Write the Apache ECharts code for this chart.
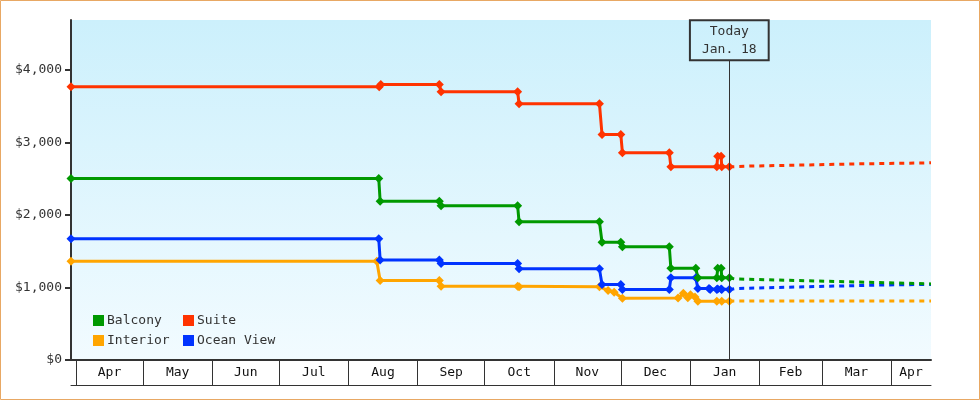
<!DOCTYPE html>
<html>
<head>
<meta charset="utf-8">
<script src="https://cdn.jsdelivr.net/npm/echarts@6/dist/echarts.min.js"></script>
<style>
html,body{margin:0;padding:0;background:#fff;}
#chart{width:980px;height:400px;}
</style>
</head>
<body>
<div id="chart"></div>
<script>
// ---------- DATA ----------
const seriesNames = ['Balcony', 'Suite', 'Interior', 'Ocean View'];
const monthLabels = ['Apr','May','Jun','Jul','Aug','Sep','Oct','Nov','Dec','Jan','Feb','Mar','Apr'];
const monthStarts = ['2022-04-01','2022-05-01','2022-06-01','2022-07-01','2022-08-01','2022-09-01','2022-10-01','2022-11-01','2022-12-01','2023-01-01','2023-02-01','2023-03-01','2023-04-01'];
const axisStart = '2022-03-29 18:00';
const axisEnd = '2023-04-18 22:00';
const yTickValues = [0, 1000, 2000, 3000, 4000];
const todayDate = '2023-01-18 14:00';
const todayText = 'Today\nJan. 18';

const suiteHistory = [
  ['2022-03-29 18:00', 3770], ['2022-08-14 19:00', 3770], ['2022-08-15 12:00', 3800],
  ['2022-09-10 17:00', 3800], ['2022-09-11 12:00', 3700], ['2022-10-15 19:00', 3700],
  ['2022-10-16 10:00', 3535], ['2022-11-21 10:00', 3535], ['2022-11-22 14:00', 3110],
  ['2022-12-01 00:00', 3110], ['2022-12-01 17:00', 2860], ['2022-12-22 17:00', 2860],
  ['2022-12-23 10:00', 2665], ['2023-01-13 00:00', 2665], ['2023-01-13 09:00', 2810],
  ['2023-01-14 22:00', 2810], ['2023-01-15 05:00', 2665], ['2023-01-18 14:00', 2665]
];
const suiteForecast = [
  ['2023-01-18 14:00', 2665], ['2023-01-28 00:00', 2675], ['2023-02-22 00:00', 2690],
  ['2023-03-16 00:00', 2705], ['2023-04-08 00:00', 2715], ['2023-04-18 22:00', 2720]
];
const balconyHistory = [
  ['2022-03-29 18:00', 2505], ['2022-08-14 14:00', 2505], ['2022-08-15 05:00', 2190],
  ['2022-09-10 17:00', 2190], ['2022-09-11 12:00', 2127], ['2022-10-15 19:00', 2127],
  ['2022-10-16 10:00', 1906], ['2022-11-21 10:00', 1906], ['2022-11-22 14:00', 1625],
  ['2022-12-01 00:00', 1625], ['2022-12-01 17:00', 1562], ['2022-12-22 17:00', 1562],
  ['2022-12-23 10:00', 1265], ['2023-01-03 14:00', 1265], ['2023-01-04 12:00', 1133],
  ['2023-01-13 00:00', 1133], ['2023-01-13 09:00', 1265], ['2023-01-14 22:00', 1265],
  ['2023-01-15 05:00', 1133], ['2023-01-18 14:00', 1133]
];
const balconyForecast = [
  ['2023-01-18 14:00', 1133], ['2023-01-21 00:00', 1118], ['2023-02-08 00:00', 1104],
  ['2023-02-26 00:00', 1090], ['2023-03-16 00:00', 1076], ['2023-04-03 00:00', 1062],
  ['2023-04-18 22:00', 1050]
];
const oceanHistory = [
  ['2022-03-29 18:00', 1671], ['2022-08-14 14:00', 1671], ['2022-08-15 05:00', 1381],
  ['2022-09-10 17:00', 1381], ['2022-09-11 12:00', 1330], ['2022-10-15 19:00', 1330],
  ['2022-10-16 10:00', 1257], ['2022-11-21 10:00', 1257], ['2022-11-22 14:00', 1040],
  ['2022-12-01 00:00', 1040], ['2022-12-01 17:00', 971], ['2022-12-22 17:00', 971],
  ['2022-12-23 10:00', 1133], ['2023-01-03 14:00', 1133], ['2023-01-04 12:00', 985],
  ['2023-01-09 12:00', 985], ['2023-01-10 00:00', 971], ['2023-01-13 00:00', 971],
  ['2023-01-13 09:00', 980], ['2023-01-14 22:00', 980], ['2023-01-15 05:00', 971],
  ['2023-01-18 14:00', 971]
];
const oceanForecast = [
  ['2023-01-18 14:00', 971], ['2023-01-21 00:00', 985], ['2023-02-08 00:00', 999],
  ['2023-02-26 00:00', 1013], ['2023-03-16 00:00', 1026], ['2023-04-03 00:00', 1038],
  ['2023-04-18 22:00', 1042]
];
const interiorHistory = [
  ['2022-03-29 18:00', 1362], ['2022-08-13 17:00', 1362], ['2022-08-15 05:00', 1095],
  ['2022-09-10 17:00', 1095], ['2022-09-11 12:00', 1017], ['2022-10-15 19:00', 1017],
  ['2022-10-16 10:00', 1010], ['2022-11-21 10:00', 1010], ['2022-11-25 07:00', 960],
  ['2022-11-28 00:00', 935], ['2022-12-01 17:00', 852], ['2022-12-26 15:00', 855],
  ['2022-12-29 00:00', 920], ['2022-12-31 00:00', 858], ['2023-01-01 05:00', 900],
  ['2023-01-03 05:00', 870], ['2023-01-04 12:00', 809], ['2023-01-13 00:00', 809],
  ['2023-01-15 05:00', 809], ['2023-01-18 14:00', 812]
];
const interiorForecast = [
  ['2023-01-18 14:00', 812], ['2023-02-15 00:00', 815], ['2023-04-18 22:00', 815]
];

// ---------- BUILD ----------
const FONT = 'DejaVu Sans Mono';
const colors = { 'Balcony': '#009900', 'Suite': '#ff3300', 'Interior': '#ffa500', 'Ocean View': '#0033ff' };

function t(s) {
  const parts = s.split(' ');
  const d = parts[0].split('-').map(Number);
  let hh = 0, mm = 0;
  if (parts[1]) { const h = parts[1].split(':').map(Number); hh = h[0]; mm = h[1]; }
  return Date.UTC(d[0], d[1] - 1, d[2], hh, mm);
}
const conv = arr => arr.map(p => [t(p[0]), p[1]]);

const xMin = t(axisStart), xMax = t(axisEnd);
const tickVals = monthStarts.map(t);
const labelVals = tickVals.map((v, i) => (v + (i + 1 < tickVals.length ? tickVals[i + 1] : xMax)) / 2);
const labelMap = {};
labelVals.forEach((v, i) => { labelMap[v] = monthLabels[i]; });

function fmtMoney(v) {
  return '$' + String(v).replace(/\B(?=(\d{3})+(?!\d))/g, ',');
}

function hist(name, data) {
  return {
    name: name, type: 'line', data: conv(data), color: colors[name],
    symbol: 'diamond', symbolSize: 9, showAllSymbol: true,
    lineStyle: { width: 3, color: colors[name] },
    itemStyle: { color: colors[name] },
    emphasis: { disabled: true }, z: 3
  };
}
function fore(name, data) {
  return {
    name: name, type: 'line', data: conv(data), color: colors[name],
    symbol: 'none', showSymbol: false,
    lineStyle: { width: 3, color: colors[name], type: [5, 5] },
    itemStyle: { color: colors[name] },
    emphasis: { disabled: true }, z: 2
  };
}

const series = [
  hist('Interior', interiorHistory), fore('Interior', interiorForecast),
  hist('Ocean View', oceanHistory), fore('Ocean View', oceanForecast),
  hist('Balcony', balconyHistory), fore('Balcony', balconyForecast),
  hist('Suite', suiteHistory), fore('Suite', suiteForecast)
];
series[series.length - 1].markLine = {
  silent: true, symbol: 'none', animation: false,
  lineStyle: { color: '#333', width: 1, type: 'solid' },
  label: {
    show: true, position: 'end', distance: 0, formatter: todayText,
    fontFamily: FONT, fontSize: 13, color: '#333', lineHeight: 18,
    borderColor: '#333', borderWidth: 1, backgroundColor: 'transparent',
    padding: [2, 12, 2, 12], align: 'center'
  },
  data: [[{ coord: [t(todayDate), 0] }, { coord: [t(todayDate), 4134] }]]
};

const legendCommon = {
  orient: 'vertical', itemWidth: 11, itemHeight: 11, itemGap: 7, icon: 'rect',
  padding: 0, selectedMode: false,
  textStyle: { fontFamily: FONT, fontSize: 13, color: '#333', padding: [0, 0, 0, -2] }
};

const option = {
  animation: false,
  backgroundColor: '#ffffff',
  textStyle: { fontFamily: FONT },
  graphic: [{
    type: 'rect', shape: { x: 0.5, y: 0.5, width: 979, height: 399 },
    style: { fill: 'none', stroke: '#e8a864', lineWidth: 1 }, silent: true, z: 100
  }],
  grid: {
    left: 71, right: 49, top: 20, bottom: 40, show: true, borderWidth: 0,
    backgroundColor: {
      type: 'linear', x: 0, y: 0, x2: 0, y2: 1,
      colorStops: [{ offset: 0, color: '#ccf0fc' }, { offset: 1, color: '#f2fbff' }]
    }
  },
  legend: [
    Object.assign({}, legendCommon, { data: ['Balcony', 'Interior'], left: 93, top: 314 }),
    Object.assign({}, legendCommon, { data: ['Suite', 'Ocean View'], left: 183, top: 314 })
  ],
  xAxis: [{
    type: 'value', min: xMin, max: xMax, position: 'bottom',
    axisLine: { show: true, lineStyle: { color: '#333', width: 2 } },
    axisTick: { show: true, customValues: tickVals, length: 25, inside: false, lineStyle: { color: '#333', width: 1 } },
    axisLabel: {
      show: true, customValues: labelVals, margin: 6,
      fontFamily: FONT, fontSize: 13, color: '#111',
      formatter: v => labelMap[v] || ''
    },
    splitLine: { show: false }
  }, {
    type: 'value', min: xMin, max: xMax, position: 'bottom', offset: 25,
    axisLine: { show: true, lineStyle: { color: '#333', width: 1 } },
    axisTick: { show: false }, axisLabel: { show: false }, splitLine: { show: false }
  }],
  yAxis: {
    type: 'value', min: 0, max: 4690, position: 'left',
    axisLine: { show: true, lineStyle: { color: '#333', width: 2 } },
    axisTick: { show: true, customValues: yTickValues, length: 6, inside: false, lineStyle: { color: '#333', width: 2 } },
    axisLabel: {
      customValues: yTickValues, margin: 9,
      fontFamily: FONT, fontSize: 13, color: '#333',
      formatter: v => fmtMoney(v)
    },
    splitLine: { show: false }
  },
  series: series
};

const chart = echarts.init(document.getElementById('chart'), null, { renderer: 'canvas' });
chart.setOption(option);
</script>
</body>
</html>
